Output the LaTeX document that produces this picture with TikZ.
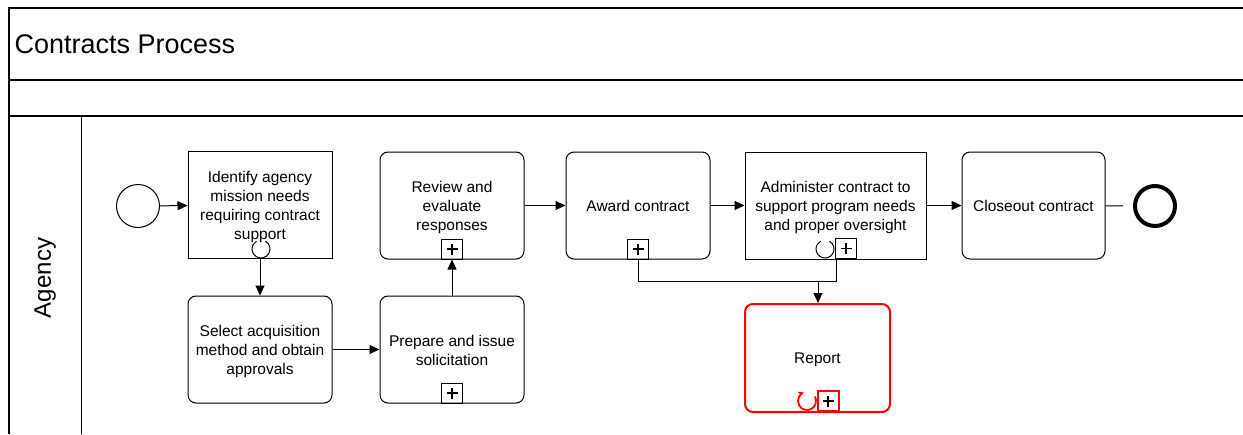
\documentclass[tikz,border=0pt]{standalone}
\usepackage{fontspec}
\setmainfont{Liberation Sans}
\usetikzlibrary{arrows.meta}
\newcommand{\lowertxt}[2]{\raisebox{-#1}[\height][\depth]{#2}}
\begin{document}
\begin{tikzpicture}[x=1pt,y=-1pt,
  task/.style={draw,line width=1pt,minimum width=144pt,minimum height=107pt,inner sep=0pt,align=center,font=\fontsize{15.5}{19}\selectfont},
  rtask/.style={task,rounded corners=8pt},
  plusbox/.style={draw,line width=1pt,minimum width=21pt,minimum height=20pt,inner sep=0pt,
    path picture={\draw[black,line width=1.8pt] ([xshift=-5.5pt]path picture bounding box.center) -- ([xshift=5.5pt]path picture bounding box.center);
      \draw[black,line width=1.8pt] ([yshift=-5.5pt]path picture bounding box.center) -- ([yshift=5.5pt]path picture bounding box.center);}},
  flow/.style={line width=1pt,-{Triangle[length=10pt,width=9pt]}},
  frame/.style={line width=1.2pt}]
\useasboundingbox (0,0) rectangle (1243,434);
% pool frame
\draw[frame] (1243,8) -- (9,8) -- (9,434);
\draw[frame] (9,80) -- (1243,80);
\draw[frame] (9,116) -- (1243,116);
\draw[line width=1pt] (81,116) -- (81,434);
\node[anchor=west,font=\fontsize{27}{30}\selectfont] (title) at (11,44) {Contracts Process};
\node[rotate=90,font=\fontsize{24}{28}\selectfont] (lane) at (45,278) {Agency};
% events
\node[draw,circle,line width=1pt,minimum size=43pt,inner sep=0pt] (start) at (138,206) {};
\node[draw,circle,line width=4pt,minimum size=40pt,inner sep=0pt] (end) at (1155,206) {};
% tasks
\node[task] (identify) at (260,205) {\lowertxt{2pt}{\parbox{140pt}{\centering Identify agency\\mission needs\\requiring contract\\support}}};
\node[rtask] (select) at (260,349.5) {\lowertxt{2pt}{\parbox{140pt}{\centering Select acquisition\\method and obtain\\approvals}}};
\node[rtask] (prepare) at (452,349.5) {\lowertxt{1pt}{\parbox{140pt}{\centering Prepare and issue\\solicitation}}};
\node[rtask] (review) at (452,205.5) {\lowertxt{2pt}{\parbox{140pt}{\centering Review and\\evaluate\\responses}}};
\node[rtask] (award) at (638,205.5) {Award contract};
\node[task,minimum width=181pt] (admin) at (835.5,205.5) {\lowertxt{2pt}{\parbox{178pt}{\centering Administer contract to\\support program needs\\and proper oversight}}};
\node[rtask,minimum width=143pt] (closeout) at (1033.5,205.5) {Closeout contract};
\node[rtask,draw=red,line width=2pt,minimum width=145pt,minimum height=108pt] (report) at (817.5,358) {\lowertxt{2pt}{Report}};
% markers
\node[plusbox,anchor=south] (pprepare) at (prepare.south) {};
\node[plusbox,anchor=south] (preview) at (review.south) {};
\node[plusbox,anchor=south] (paward) at (award.south) {};
\node[plusbox,anchor=south] (padmin) at (846,259) {};
\node[plusbox,anchor=south,draw=red,line width=2pt] (preport) at (828,412) {};
\draw[line width=1pt] (261,249) ++(-60:9) arc[start angle=-60,end angle=240,radius=9];
\draw[line width=1pt] (825,249) ++(-60:9) arc[start angle=-60,end angle=240,radius=9];
\draw[red,line width=1.8pt,-{Stealth[length=6pt,width=6pt]}] (807,401) ++(-30:9) arc[start angle=-30,end angle=250,radius=9];
% flows
\draw[flow] (start) -- (identify);
\draw[flow] (identify.south) -- (select.north);
\draw[flow] (select) -- (prepare);
\draw[flow] (prepare.north) -- (preview.south);
\draw[flow] (review) -- (award);
\draw[flow] (award) -- (admin);
\draw[flow] (admin) -- (closeout);
\draw[line width=1pt,shorten >=10pt] (closeout) -- (end);
\coordinate (join) at (818,281);
\draw[flow] (paward.south) |- (join) -- (report.north -| join);
\draw[line width=1pt] (padmin.south -| 836,0) -- (836,281) -- (join);
\end{tikzpicture}
\end{document}
